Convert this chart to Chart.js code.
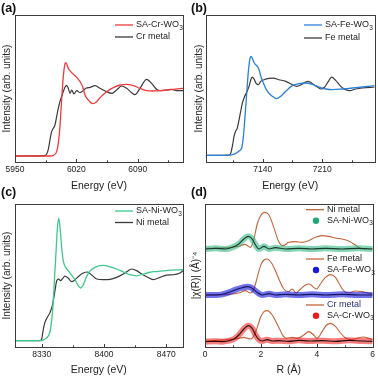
<!DOCTYPE html>
<html>
<head>
<meta charset="utf-8">
<script src="https://cdn.jsdelivr.net/npm/chart.js@4.4.1/dist/chart.umd.min.js"></script>
<style>
  html, body { margin: 0; padding: 0; background: #fff; }
  #wrap { position: relative; width: 378px; height: 378px; overflow: hidden; }
  canvas { position: absolute; }
  .tag { position: absolute; font: bold 12.5px 'Liberation Sans', Arial, sans-serif; line-height: 1; color: #111; }
</style>
</head>
<body>
<div id="wrap">
  <canvas id="pc" style="left:0;top:189px" width="189" height="189"></canvas>
  <canvas id="pd" style="left:189px;top:189px" width="189" height="189"></canvas>
  <canvas id="pa" style="left:0;top:0" width="189" height="196"></canvas>
  <canvas id="pb" style="left:189px;top:0" width="189" height="196"></canvas>
  <div class="tag" style="left:1px;top:1.5px">(a)</div>
  <div class="tag" style="left:191px;top:1.5px">(b)</div>
  <div class="tag" style="left:1px;top:186px">(c)</div>
  <div class="tag" style="left:191px;top:186px">(d)</div>
</div>
<script>
// (a) Cr K-edge XANES
var crSaE = [5950, 5990, 5993.7, 5997.5, 5999.4, 6001.3, 6003.2, 6005.1, 6007.0, 6008.2, 6010.8, 6014.7, 6020.4, 6024.2, 6027.2, 6029.9, 6033.7, 6038.6, 6043.2, 6047.0, 6054.6, 6062.2, 6069.8, 6077.4, 6085.0, 6092.6, 6100.2, 6107.8, 6115.4, 6123.0, 6130.6, 6141.7];
var crSaI = [0, 0, 0.01, 0.065, 0.19, 0.44, 0.84, 1.19, 1.38, 1.40, 1.315, 1.25, 1.18, 1.115, 1.04, 0.915, 0.84, 0.785, 0.815, 0.875, 0.965, 1.025, 1.065, 1.075, 1.055, 1.015, 0.98, 0.975, 0.98, 0.99, 1.0, 1.015];
var crMetE = [5950, 5984.2, 5986.1, 5988.0, 5989.9, 5991.8, 5993.7, 5995.6, 5997.5, 5999.4, 6001.3, 6003.2, 6005.1, 6007.0, 6008.9, 6010.8, 6012.8, 6014.7, 6017.3, 6020.4, 6024.2, 6031.0, 6035.6, 6041.3, 6047.0, 6054.6, 6060.3, 6066.0, 6071.7, 6077.4, 6083.1, 6086.9, 6092.6, 6100.2, 6105.9, 6111.6, 6115.4, 6123.0, 6128.7, 6134.4, 6141.7];
var crMetI = [0, 0.005, 0.03, 0.10, 0.24, 0.365, 0.415, 0.465, 0.59, 0.715, 0.815, 0.89, 0.965, 1.03, 1.06, 1.015, 0.94, 0.99, 0.93, 0.98, 0.95, 1.015, 1.03, 1.055, 1.015, 0.965, 0.94, 0.99, 1.05, 1.015, 0.95, 0.92, 1.015, 1.15, 1.09, 1.0, 0.98, 0.99, 1.0, 0.98, 0.98];
var ticksA = [5950, 6020, 6090];
var minorA = [5985, 6055, 6125];

// (b) Fe K-edge XANES
var feSaE = [7072.9, 7102.3, 7104.3, 7108.2, 7112.2, 7115.3, 7117.3, 7119.2, 7121.2, 7123.1, 7125.1, 7126.3, 7127.8, 7129.8, 7131.8, 7133.7, 7135.7, 7137.6, 7141.6, 7145.5, 7151.4, 7156.1, 7161.2, 7167.1, 7174.9, 7182.7, 7190.6, 7198.4, 7206.3, 7214.1, 7222.0, 7233.7, 7245.5, 7257.3, 7271.8];
var feSaI = [0, 0.005, 0.01, 0.03, 0.065, 0.115, 0.29, 0.59, 0.94, 1.265, 1.465, 1.49, 1.46, 1.40, 1.365, 1.34, 1.29, 1.20, 1.065, 0.965, 0.89, 0.855, 0.89, 0.965, 1.05, 1.08, 1.09, 1.07, 1.03, 1.0, 0.99, 1.0, 1.015, 1.03, 1.05];
var feMetE = [7072.9, 7100.4, 7102.3, 7104.3, 7106.3, 7108.2, 7110.2, 7112.2, 7114.1, 7116.1, 7118.8, 7121.2, 7123.9, 7126.3, 7127.8, 7129.8, 7132.5, 7134.9, 7137.6, 7141.6, 7147.5, 7152.2, 7159.2, 7167.1, 7174.9, 7179.6, 7184.7, 7189.8, 7193.7, 7198.4, 7204.3, 7209.0, 7212.9, 7217.3, 7221.2, 7225.9, 7231.8, 7237.7, 7242.4, 7249.4, 7257.3, 7271.8];
var feMetI = [0, 0.005, 0.03, 0.14, 0.29, 0.365, 0.415, 0.54, 0.665, 0.79, 0.89, 0.95, 1.04, 1.15, 1.18, 1.15, 1.08, 1.065, 1.115, 1.14, 1.16, 1.165, 1.14, 1.115, 1.065, 1.04, 1.06, 1.10, 1.115, 1.08, 1.03, 1.0, 1.03, 1.115, 1.18, 1.13, 1.04, 0.99, 0.975, 1.0, 1.015, 1.03];
var ticksB = [7140, 7210];
var minorB = [7105, 7175, 7245];

// (c) Ni K-edge XANES
var niSaE = [8299.7, 8330, 8331.9, 8335.6, 8338.6, 8340.5, 8342.4, 8344.2, 8346.1, 8347.6, 8349.1, 8350.6, 8352.5, 8354.3, 8357.0, 8360.0, 8363.7, 8367.5, 8371.2, 8373.8, 8376.8, 8380.6, 8384.3, 8391.8, 8399.3, 8406.8, 8414.3, 8421.7, 8429.2, 8436.7, 8444.2, 8451.7, 8459.2, 8466.7, 8474.2, 8488.8];
var niSaI = [0, 0, 0.01, 0.042, 0.093, 0.21, 0.44, 0.815, 1.23, 1.56, 1.71, 1.58, 1.30, 1.115, 1.02, 0.975, 0.915, 0.85, 0.765, 0.735, 0.78, 0.90, 0.975, 1.035, 1.05, 1.03, 1.0, 0.96, 0.92, 0.905, 0.93, 0.955, 0.965, 0.975, 0.985, 0.99];
var niMetE = [8299.7, 8328.1, 8330, 8331.9, 8333.7, 8336.4, 8339.4, 8342.4, 8345.0, 8346.9, 8349.1, 8351.3, 8353.6, 8356.2, 8360.0, 8363.7, 8367.5, 8372.3, 8376.8, 8381.3, 8386.2, 8391.8, 8399.3, 8406.8, 8414.3, 8421.7, 8427.4, 8431.1, 8436.7, 8442.4, 8448.0, 8455.5, 8463.0, 8470.4, 8477.9, 8485.4, 8488.8];
var niMetI = [0, 0, 0.023, 0.163, 0.256, 0.326, 0.395, 0.51, 0.70, 0.837, 0.86, 0.837, 0.87, 0.90, 0.87, 0.823, 0.85, 0.907, 0.944, 0.958, 0.916, 0.86, 0.851, 0.856, 0.884, 0.93, 0.977, 1.0, 0.977, 0.93, 0.893, 0.851, 0.884, 0.916, 0.92, 0.944, 0.977];
var ticksC = [8330, 8400, 8470];
var minorC = [8365, 8435];

// (d) FT-EXAFS, curves stacked with offsets
var niFitR = [0, 0.38, 0.74, 0.98, 1.21, 1.39, 1.55, 1.69, 1.81, 1.93, 2.11, 2.29, 2.52, 2.88, 3.36, 3.83, 4.31, 4.90, 5.50, 6.0];
var niFitK = [2.94, 2.96, 2.94, 2.99, 3.09, 3.24, 3.32, 3.24, 3.06, 2.94, 3.02, 2.94, 2.98, 2.94, 2.96, 2.94, 2.96, 2.94, 2.96, 2.94];
var niMetR = [0, 0.86, 1.21, 1.43, 1.63, 1.75, 1.87, 1.99, 2.14, 2.29, 2.40, 2.52, 2.64, 2.79, 3.0, 3.24, 3.48, 3.71, 3.95, 4.19, 4.43, 4.67, 4.90, 5.14, 5.38, 5.56, 6.0];
var niMetK = [2.96, 2.98, 3.02, 3.08, 2.99, 3.24, 3.69, 3.94, 4.04, 3.96, 3.74, 3.44, 3.16, 3.04, 3.14, 3.16, 3.14, 3.19, 3.29, 3.34, 3.32, 3.27, 3.24, 3.18, 3.06, 2.96, 2.94];
var feFitR = [0, 0.38, 0.62, 0.86, 1.10, 1.33, 1.51, 1.63, 1.75, 1.90, 2.05, 2.29, 2.52, 2.88, 3.36, 3.83, 4.31, 4.90, 5.50, 6.0];
var feFitK = [1.56, 1.56, 1.58, 1.64, 1.72, 1.78, 1.81, 1.79, 1.72, 1.62, 1.56, 1.60, 1.56, 1.58, 1.56, 1.58, 1.56, 1.58, 1.56, 1.56];
var feMetR = [0, 0.86, 1.21, 1.45, 1.63, 1.75, 1.87, 1.99, 2.11, 2.23, 2.38, 2.52, 2.67, 2.82, 2.98, 3.12, 3.26, 3.42, 3.60, 3.74, 3.89, 3.99, 4.13, 4.31, 4.49, 4.67, 4.81, 4.96, 5.14, 5.38, 5.62, 5.86, 6.0];
var feMetK = [1.56, 1.58, 1.62, 1.69, 1.62, 1.74, 2.09, 2.44, 2.61, 2.64, 2.52, 2.29, 1.99, 1.74, 1.66, 1.74, 1.62, 1.74, 1.86, 1.89, 1.79, 1.74, 1.89, 2.09, 2.17, 2.09, 1.89, 1.69, 1.62, 1.68, 1.66, 1.61, 1.59];
var crFitR = [0, 0.38, 0.62, 0.86, 1.04, 1.21, 1.39, 1.55, 1.69, 1.81, 1.93, 2.05, 2.23, 2.40, 2.64, 3.0, 3.36, 3.71, 4.19, 4.67, 5.14, 5.62, 6.0];
var crFitK = [0.16, 0.17, 0.16, 0.19, 0.24, 0.36, 0.54, 0.64, 0.56, 0.36, 0.22, 0.18, 0.22, 0.18, 0.19, 0.17, 0.20, 0.18, 0.19, 0.17, 0.20, 0.18, 0.17];
var crMetR = [0, 0.86, 1.21, 1.39, 1.63, 1.75, 1.87, 1.99, 2.11, 2.23, 2.38, 2.52, 2.67, 2.79, 2.90, 3.12, 3.30, 3.54, 3.71, 3.89, 4.01, 4.19, 4.35, 4.49, 4.67, 4.85, 5.02, 5.26, 5.50, 5.68, 5.86, 6.0];
var crMetK = [0.18, 0.22, 0.26, 0.29, 0.24, 0.34, 0.59, 0.89, 1.06, 1.09, 0.99, 0.79, 0.54, 0.34, 0.26, 0.29, 0.26, 0.36, 0.46, 0.36, 0.26, 0.46, 0.66, 0.71, 0.62, 0.42, 0.28, 0.22, 0.28, 0.30, 0.26, 0.22];
var ticksD = [0, 2, 4, 6];
var minorD = [1, 3, 5];

var FONT = "'Liberation Sans', Arial, sans-serif";

function pts(xs, ys) {
    return xs.map(function (x, i) { return { x: x, y: ys[i] }; });
}

// box round the plot area + inward ticks on the bottom axis
var framePlugin = {
    id: 'frame',
    afterDatasetsDraw: function (chart, args, opts) {
        var ctx = chart.ctx, a = chart.chartArea, x = chart.scales.x;
        ctx.save();
        ctx.strokeStyle = '#3c3c3c';
        ctx.lineWidth = 1;
        ctx.strokeRect(Math.round(a.left) + 0.5, Math.round(a.top) + 0.5,
            Math.round(a.right - a.left), Math.round(a.bottom - a.top));
        var b = Math.round(a.bottom) + 0.5;
        ctx.beginPath();
        x.ticks.forEach(function (t) {
            var px = Math.round(x.getPixelForValue(t.value)) + 0.5;
            ctx.moveTo(px, b); ctx.lineTo(px, b - 3.5);
        });
        (opts.minor || []).forEach(function (v) {
            var px = Math.round(x.getPixelForValue(v)) + 0.5;
            ctx.moveTo(px, b); ctx.lineTo(px, b - 2.2);
        });
        ctx.stroke();
        ctx.restore();
    }
};

function drawLabel(ctx, text, x, y, color) {
    var parts = text.split('_');
    ctx.fillStyle = color;
    ctx.textBaseline = 'middle';
    ctx.textAlign = 'left';
    ctx.font = '9px ' + FONT;
    ctx.fillText(parts[0], x, y);
    if (parts[1]) {
        var w = ctx.measureText(parts[0]).width;
        ctx.font = '6.5px ' + FONT;
        ctx.fillText(parts[1], x + w + 0.3, y + 3);
    }
}

// legend drawn inside the plot, one entry per item
var keyPlugin = {
    id: 'key',
    afterDraw: function (chart, args, opts) {
        var ctx = chart.ctx;
        ctx.save();
        (opts.items || []).forEach(function (it) {
            var ds = chart.data.datasets[it.ds];
            if (it.dot) {
                ctx.fillStyle = ds.keyColor || ds.borderColor;
                ctx.beginPath();
                ctx.arc(it.x + 10, it.y, 3.2, 0, Math.PI * 2);
                ctx.fill();
            } else {
                ctx.strokeStyle = ds.borderColor;
                ctx.lineWidth = 1.3;
                ctx.beginPath();
                ctx.moveTo(it.x, it.y); ctx.lineTo(it.x + 18, it.y);
                ctx.stroke();
            }
            drawLabel(ctx, ds.label, it.x + 21, it.y, it.color || '#222');
        });
        ctx.restore();
    }
};

function panel(id, o) {
    return new Chart(document.getElementById(id), {
        type: 'line',
        data: { datasets: o.datasets },
        options: {
            responsive: false,
            animation: false,
            events: [],
            layout: { padding: o.pad },
            elements: { point: { radius: 0 }, line: { cubicInterpolationMode: 'monotone' } },
            scales: {
                x: {
                    type: 'linear', min: o.xmin, max: o.xmax,
                    afterFit: function (s) { s.height = o.xh; },
                    afterBuildTicks: function (s) { s.ticks = o.ticks.map(function (v) { return { value: v }; }); },
                    grid: { display: false, drawTicks: false },
                    border: { display: false },
                    ticks: { padding: 3, color: '#222', maxRotation: 0, font: { size: 8.5, family: FONT },
                        callback: function (v) { return String(v); } },
                    title: { display: true, text: o.xTitle, color: '#222', font: { size: 10.5, family: FONT },
                        padding: { top: 0, bottom: o.xtp } }
                },
                y: {
                    type: 'linear', min: o.ymin, max: o.ymax,
                    afterFit: function (s) { s.width = o.yw; },
                    grid: { display: false, drawTicks: false },
                    border: { display: false },
                    ticks: { display: false },
                    title: { display: true, text: o.yTitle, color: '#222', font: { size: 10, family: FONT },
                        padding: { top: o.ytp, bottom: 0 } }
                }
            },
            plugins: {
                legend: { display: false },
                tooltip: { enabled: false },
                frame: { minor: o.minor },
                key: { items: o.key }
            }
        },
        plugins: [framePlugin, keyPlugin]
    });
}

panel('pa', {
    datasets: [
        { label: 'SA-Cr-WO_3', data: pts(crSaE, crSaI), borderColor: '#f03a3c', borderWidth: 1.3 },
        { label: 'Cr metal', data: pts(crMetE, crMetI), borderColor: '#3a3a3a', borderWidth: 1.2 }
    ],
    xmin: 5950, xmax: 6141.7, ymin: -0.09, ymax: 2.115,
    ticks: ticksA, minor: minorA,
    pad: { left: 0, top: 15, right: 6, bottom: 0 }, yw: 15, xh: 34, ytp: 1.5, xtp: 3.7,
    xTitle: 'Energy (eV)', yTitle: 'Intensity (arb. units)',
    key: [{ ds: 0, x: 115, y: 25 }, { ds: 1, x: 115, y: 37 }]
});

panel('pb', {
    datasets: [
        { label: 'SA-Fe-WO_3', data: pts(feSaE, feSaI), borderColor: '#2a7fd8', borderWidth: 1.3 },
        { label: 'Fe metal', data: pts(feMetE, feMetI), borderColor: '#3a3a3a', borderWidth: 1.2 }
    ],
    xmin: 7072.9, xmax: 7271.8, ymin: -0.1, ymax: 2.115,
    ticks: ticksB, minor: minorB,
    pad: { left: 0, top: 15, right: 3.3, bottom: 0 }, yw: 16.7, xh: 34, ytp: 4, xtp: 3.7,
    xTitle: 'Energy (eV)', yTitle: 'Intensity (arb. units)',
    key: [{ ds: 0, x: 115, y: 25 }, { ds: 1, x: 115, y: 38 }]
});

panel('pc', {
    datasets: [
        { label: 'SA-Ni-WO_3', data: pts(niSaE, niSaI), borderColor: '#3cc98c', borderWidth: 1.3 },
        { label: 'Ni metal', data: pts(niMetE, niMetI), borderColor: '#3a3a3a', borderWidth: 1.2 }
    ],
    xmin: 8299.7, xmax: 8488.8, ymin: -0.088, ymax: 1.907,
    ticks: ticksC, minor: minorC,
    pad: { left: 0, top: 15, right: 6, bottom: 0 }, yw: 14.7, xh: 31, ytp: 1.7, xtp: 1.2,
    xTitle: 'Energy (eV)', yTitle: 'Intensity (arb. units)',
    key: [{ ds: 0, x: 115, y: 22 }, { ds: 1, x: 115, y: 33.5 }]
});

panel('pd', {
    datasets: [
        { label: 'Ni fit', data: pts(niFitR, niFitK), borderColor: '#17382a', borderWidth: 1.1 },
        { label: 'Fe fit', data: pts(feFitR, feFitK), borderColor: '#14145a', borderWidth: 1.1 },
        { label: 'Cr fit', data: pts(crFitR, crFitK), borderColor: '#2a0c0c', borderWidth: 1.1 },
        { label: 'SA-Ni-WO_3', data: pts(niFitR, niFitK), borderColor: 'rgba(34,178,122,0.55)', keyColor: '#22a877', borderWidth: 6 },
        { label: 'SA-Fe-WO_3', data: pts(feFitR, feFitK), borderColor: 'rgba(20,20,225,0.6)', keyColor: '#1818d8', borderWidth: 6 },
        { label: 'SA-Cr-WO_3', data: pts(crFitR, crFitK), borderColor: 'rgba(240,20,20,0.55)', keyColor: '#ec1c1c', borderWidth: 6 },
        { label: 'Ni metal', data: pts(niMetR, niMetK), borderColor: '#c4633a', borderWidth: 1.1 },
        { label: 'Fe metal', data: pts(feMetR, feMetK), borderColor: '#c4633a', borderWidth: 1.1 },
        { label: 'Cr metal', data: pts(crMetR, crMetK), borderColor: '#c4633a', borderWidth: 1.1 }
    ],
    xmin: 0, xmax: 6, ymin: 0, ymax: 4.29,
    ticks: ticksD, minor: minorD,
    pad: { left: 0, top: 15, right: 5, bottom: 0 }, yw: 16, xh: 31, ytp: 1, xtp: 1.2,
    xTitle: 'R (Å)', yTitle: '|χ(R)| (Å)⁻⁴',
    key: [
        { ds: 6, x: 117, y: 20.7 }, { ds: 3, x: 117, y: 31.7, dot: true },
        { ds: 7, x: 117, y: 70 }, { ds: 4, x: 117, y: 81, dot: true },
        { ds: 8, x: 117, y: 116, color: '#2a2a80' }, { ds: 5, x: 117, y: 126.7, dot: true }
    ]
});
</script>
</body>
</html>
